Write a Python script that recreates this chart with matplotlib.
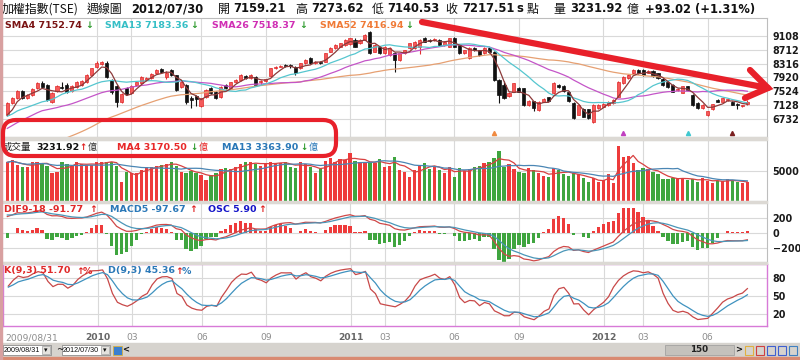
import numpy as np
import pandas as pd
import matplotlib
matplotlib.use("Agg")
import matplotlib.pyplot as plt
from matplotlib.patches import Rectangle, FancyBboxPatch
from matplotlib.lines import Line2D
from matplotlib.transforms import IdentityTransform

W, H = 800, 360

# weekly bars, 2009/08/31 .. 2012/07/30 (150 trading weeks)
opens = [6850, 7185, 7330, 7530, 7330, 7415, 7610, 7750, 7700, 7215,
         7530, 7650, 7700, 7530, 7645, 7700, 7790, 7990, 8220, 8305,
         8335, 7846, 7673, 7214, 7616, 7472, 7702, 7759, 7846, 7903,
         8046, 8160, 7920, 8133, 7989, 7645, 7702, 7330, 7386, 7100,
         7358, 7616, 7501, 7358, 7702, 7616, 7790, 7846, 7960, 7903,
         7932, 7780, 7820, 7960, 8180, 8230, 8280, 8270, 8230, 8180,
         8325, 8470, 8330, 8370, 8370, 8660, 8760, 8800, 8850, 8880,
         8990, 8900, 9000, 9230, 8660, 8800, 8610, 8560, 8610, 8420,
         8610, 8760, 8760, 8800, 9040, 9000, 8990, 9000, 8850, 8800,
         9040, 8850, 8610, 8470, 8760, 8700, 8610, 8760, 8660, 7846,
         7700, 7390, 7510, 7610, 7610, 7130, 7230, 6990, 7220, 7350,
         7460, 7700, 7680, 7500, 7180, 6850, 7000, 7000, 6650, 7040,
         7080, 7130, 7180, 7370, 7750, 7900, 8040, 8130, 8140, 8060,
         8100, 8040, 7880, 7790, 7700, 7560, 7480, 7660, 7420, 7180,
         7030, 6840, 7000, 7270, 7220, 7260, 7220, 7160, 7100, 7159.21]
highs = [7200, 7360, 7560, 7560, 7450, 7620, 7790, 7810, 7730, 7500,
         7700, 7800, 7750, 7700, 7810, 7840, 8010, 8200, 8395, 8400,
         8395, 7870, 7700, 7480, 7650, 7700, 7800, 7950, 7930, 8040,
         8150, 8190, 8100, 8160, 8000, 7800, 7720, 7400, 7420, 7340,
         7580, 7650, 7520, 7670, 7730, 7800, 7870, 8010, 8000, 8010,
         7960, 7840, 7880, 8200, 8260, 8280, 8310, 8300, 8250, 8340,
         8440, 8500, 8400, 8400, 8620, 8780, 8870, 8920, 9020, 9060,
         9040, 9020, 9160, 9260, 8870, 8830, 8820, 8780, 8640, 8630,
         8720, 8920, 8970, 9020, 9080, 9030, 9040, 9020, 8970, 9060,
         9070, 8870, 8720, 8780, 8790, 8720, 8780, 8790, 8680, 7870,
         7830, 7490, 7770, 7640, 7630, 7260, 7250, 7240, 7320, 7370,
         7780, 7740, 7700, 7520, 7200, 7150, 7030, 7020, 7150, 7150,
         7190, 7240, 7290, 7820, 7960, 8010, 8150, 8170, 8170, 8120,
         8130, 8060, 7900, 7810, 7720, 7620, 7680, 7680, 7440, 7200,
         7150, 6970, 7170, 7290, 7340, 7310, 7240, 7180, 7140, 7273.62]
lows = [6820, 7150, 7300, 7300, 7300, 7390, 7590, 7620, 7230, 7190,
        7500, 7580, 7480, 7500, 7620, 7680, 7770, 7970, 8180, 8280,
        7900, 7450, 7080, 7180, 7420, 7450, 7680, 7740, 7820, 7880,
        8020, 8050, 7870, 7960, 7530, 7620, 7150, 7050, 7100, 7060,
        7340, 7450, 7300, 7340, 7600, 7600, 7770, 7830, 7880, 7880,
        7680, 7700, 7790, 7940, 8160, 8210, 8210, 8200, 7990, 8150,
        8300, 8300, 8300, 8300, 8350, 8640, 8740, 8780, 8830, 8860,
        8780, 8880, 8980, 8590, 8640, 8590, 8590, 8540, 8080, 8400,
        8590, 8740, 8740, 8600, 8930, 8940, 8970, 8830, 8830, 8780,
        8780, 8590, 8590, 8450, 8680, 8540, 8590, 8630, 7820, 7185,
        7290, 7370, 7490, 7490, 7100, 7110, 6950, 6970, 7200, 7230,
        7440, 7630, 7500, 7210, 6730, 6830, 6770, 6740, 6610, 7020,
        7060, 7110, 7160, 7350, 7730, 7880, 8020, 8030, 7970, 8040,
        7930, 7880, 7680, 7630, 7490, 7540, 7460, 7550, 7110, 7010,
        7010, 6800, 6980, 7200, 7200, 7240, 7120, 7000, 7080, 7140.53]
closes = [7180, 7330, 7530, 7330, 7415, 7590, 7760, 7655, 7270, 7470,
          7670, 7620, 7500, 7670, 7790, 7820, 7990, 8190, 8330, 8360,
          7930, 7500, 7214, 7444, 7444, 7673, 7788, 7932, 7903, 8018,
          8133, 8075, 8060, 7989, 7559, 7788, 7214, 7272, 7300, 7330,
          7559, 7472, 7329, 7645, 7616, 7788, 7846, 7989, 7903, 7989,
          7702, 7817, 7860, 8180, 8230, 8255, 8235, 8240, 8040, 8325,
          8420, 8325, 8370, 8330, 8610, 8760, 8850, 8900, 9000, 9040,
          8800, 9000, 9140, 8610, 8850, 8610, 8800, 8760, 8420, 8610,
          8700, 8900, 8950, 9000, 8950, 8960, 9010, 8850, 8950, 9040,
          8800, 8610, 8700, 8760, 8700, 8560, 8760, 8650, 7846, 7415,
          7320, 7460, 7750, 7510, 7130, 7230, 7050, 7220, 7300, 7250,
          7750, 7650, 7520, 7230, 6750, 7128, 6790, 6760, 7128, 7128,
          7170, 7220, 7270, 7800, 7940, 7990, 8130, 8050, 7990, 8100,
          7950, 7900, 7700, 7650, 7510, 7600, 7660, 7570, 7130, 7030,
          7130, 6950, 7150, 7220, 7320, 7290, 7140, 7130, 7124.49, 7217.51]
# weekly turnover, 億
volumes = [6450, 6830, 6000, 5620, 5720, 6450, 6560, 6280, 5830, 4610,
           4890, 6450, 6110, 5830, 6560, 6110, 6000, 6000, 6450, 6560,
           6560, 6560, 5890, 3110, 4890, 4610, 4720, 5170, 5720, 5620,
           5830, 6000, 6170, 6560, 5830, 4890, 4720, 5000, 4720, 4330,
           3500, 4330, 4610, 5280, 5450, 5330, 5720, 6170, 6450, 6450,
           6170, 5890, 6390, 6450, 6280, 6280, 6560, 5620, 5450, 6450,
           6110, 5620, 4610, 5280, 6670, 7110, 6560, 6950, 6830, 7950,
           6670, 6450, 6560, 6450, 6390, 7000, 5620, 5890, 7390, 5170,
           4890, 3950, 5170, 6000, 6280, 5280, 5830, 5170, 4720, 5720,
           3950, 5450, 5050, 5280, 5720, 5830, 6280, 6450, 7110, 8390,
           5620, 6110, 5280, 4890, 4610, 5450, 5170, 4610, 4170, 3950,
           5450, 5170, 4500, 4170, 4610, 4500, 3780, 3220, 3780, 3110,
           3500, 4500, 3050, 9170, 7390, 7550, 6280, 5170, 5450, 5280,
           4890, 4500, 3610, 3610, 3890, 3780, 3780, 3500, 3610, 3220,
           3900, 3400, 2940, 3350, 3390, 3700, 3300, 3100, 3050, 3232]
# rough weekly closes for the year before the window (warm-up of the averages)
prior_closes = [6800, 6300, 5900, 5650, 5400, 5000, 4800, 4650, 4800, 4500,
                4300, 4400, 4500, 4650, 4700, 4600, 4550, 4500, 4300, 4250,
                4400, 4600, 4550, 4500, 4450, 4700, 4950, 5200, 5350, 5500,
                5650, 5750, 5900, 6100, 6500, 6700, 6850, 6600, 6700, 6600,
                6500, 6400, 6600, 6800, 6900, 7050, 7000, 6900, 6950, 6750,
                6600, 6850]

tick_idx = [18, 25, 39, 52, 69, 76, 90, 103, 120, 128, 141]
tick_lbl = ["2010", "03", "06", "09", "2011", "03", "06", "09", "2012", "03", "06"]
price_ticks = [9108, 8712, 8316, 7920, 7524, 7128, 6732]
vol_ticks = [5000]
macd_ticks = [200, 0, -200]
kd_ticks = [80, 50, 20]

RED = "#ee3b3b"
GREEN = "#3fa53f"
GRID = "#d9d9d9"

# ---- indicators ----
n0 = len(prior_closes)
c_all = pd.Series(prior_closes + closes, dtype=float)
h_all = pd.Series(prior_closes + highs, dtype=float)
l_all = pd.Series(prior_closes + lows, dtype=float)

def sma(n):
    return c_all.rolling(n, min_periods=1).mean().values[n0:]

ema9 = c_all.ewm(span=9, adjust=False).mean()
ema18 = c_all.ewm(span=18, adjust=False).mean()
dif = ema9 - ema18
macd = dif.ewm(span=5, adjust=False).mean()
osc = (dif - macd).values[n0:]
dif = dif.values[n0:]
macd = macd.values[n0:]

hh = h_all.rolling(9, min_periods=1).max()
ll = l_all.rolling(9, min_periods=1).min()
rsv = ((c_all - ll) / (hh - ll).replace(0, np.nan) * 100).fillna(50).values
k_line, d_line = [], []
k, d = 50.0, 50.0
for r in rsv:
    k = k * 2 / 3 + r / 3
    d = d * 2 / 3 + k / 3
    k_line.append(k)
    d_line.append(d)
k_line = np.array(k_line[n0:])
d_line = np.array(d_line[n0:])

vol = pd.Series(volumes, dtype=float)
vma4 = vol.rolling(4, min_periods=1).mean()
vma13 = vol.rolling(13, min_periods=1).mean()

x = np.arange(len(closes))
o = np.array(opens)
c = np.array(closes)
up = c >= o

# ---- figure ----
fig = plt.figure(figsize=(8, 3.6), dpi=100)
fig.patch.set_facecolor("white")


def rect(x0, y0, x1, y1):
    return [x0 / W, 1 - y1 / H, (x1 - x0) / W, (y1 - y0) / H]


def put(px, py, s, color="#111111", size=6.8, weight="bold", fam=None, ha="left"):
    fig.text(px / W, 1 - py / H, s, color=color, fontsize=size, fontweight=weight,
             family=fam or ["DejaVu Sans", "Noto Sans CJK TC"], ha=ha, va="center")


ax_p = fig.add_axes(rect(2, 18, 767, 137))
ax_v = fig.add_axes(rect(2, 140, 767, 201))
ax_m = fig.add_axes(rect(2, 203, 767, 262))
ax_k = fig.add_axes(rect(3, 264, 767, 326))

for ax, ticks in ((ax_p, price_ticks), (ax_v, vol_ticks), (ax_m, macd_ticks), (ax_k, kd_ticks)):
    ax.set_xlim(-1.07, 152.95)
    ax.set_xticks(tick_idx)
    ax.set_yticks(ticks)
    ax.yaxis.tick_right()
    ax.tick_params(length=0, labelsize=6.9, pad=4, labelcolor="#1a1a1a")
    for t in ax.get_yticklabels():
        t.set_fontweight("bold")
    ax.grid(True, color=GRID, lw=0.8)
    ax.set_axisbelow(True)
    for s in ax.spines.values():
        s.set_color("#bdbdbd")
        s.set_linewidth(0.8)
    if ax is not ax_k:
        ax.set_xticklabels([])

# price panel
ax_p.set_ylim(6209.6, 9624.9)
wick_col = np.where(up, "#e03030", "#111111")
ax_p.vlines(x, lows, highs, colors=wick_col, lw=0.8, zorder=2)
body = np.maximum(np.abs(c - o), 18)
ax_p.bar(x, body, bottom=np.minimum(o, c), width=0.62,
         color=np.where(up, "#f45a5a", "#111111"),
         edgecolor=np.where(up, "#e02828", "#111111"), linewidth=0.5, zorder=3)
ax_p.plot(x, sma(52), color="#e6a072", lw=0.9, zorder=4)
ax_p.plot(x, sma(26), color="#c455c8", lw=0.9, zorder=4)
ax_p.plot(x, sma(13), color="#55c6cf", lw=0.9, zorder=4)
ax_p.plot(x, sma(4), color="#8c3a3a", lw=0.9, zorder=4)
for n, col in ((52, "#f08a40"), (26, "#c040c0"), (13, "#40c8d0"), (4, "#7a2020")):
    ax_p.plot(len(closes) - n, 6330, marker="^", ms=3, color=col, zorder=5)

# volume panel
ax_v.set_ylim(0, 10170)
ax_v.bar(x, volumes, width=0.66, color=np.where(up, RED, GREEN), lw=0, zorder=2)
ax_v.plot(x, vma4, color="#d84040", lw=0.9, zorder=3)
ax_v.plot(x, vma13, color="#4a86b4", lw=0.9, zorder=3)

# MACD panel (OSC bars drawn on their own, larger scale)
ax_m.set_ylim(-386.7, 400)
ax_m.bar(x, osc * 3.4, width=0.66, color=np.where(osc >= 0, RED, GREEN), lw=0, zorder=2)
ax_m.plot(x, dif, color="#d04848", lw=0.9, zorder=3)
ax_m.plot(x, macd, color="#4a96b8", lw=0.9, zorder=3)

# KD panel
ax_k.set_ylim(0, 103.3)
ax_k.plot(x, k_line, color="#c84848", lw=0.9)
ax_k.plot(x, d_line, color="#3f92bf", lw=0.9)
for s in ax_k.spines.values():
    s.set_color("#d77ad7")
    s.set_linewidth(1.0)
ax_k.set_xticklabels(tick_lbl)
ax_k.tick_params(axis="x", labelsize=6.6, labelcolor="#8c8c8c", pad=5)
for t in ax_k.get_xticklabels():
    if len(t.get_text()) == 4:
        t.set_fontweight("bold")
        t.set_color("#666666")

# panel separators
for y0, y1 in ((137, 140), (201, 203), (262, 264)):
    fig.patches.append(Rectangle((2 / W, 1 - y1 / H), 765 / W, (y1 - y0) / H,
                                 transform=fig.transFigure, color="#dcd9d4", zorder=0))

# header
CJK = ["Noto Sans CJK TC", "DejaVu Sans"]
hy = 9
put(2, hy, "加權指數(TSE)", size=8.6, weight="normal", fam=CJK)
put(87, hy, "週線圖", size=8.6, weight="normal", fam=CJK)
put(131, hy, "2012/07/30", size=8.3)
put(218, hy, "開", size=8.6, weight="normal", fam=CJK)
put(233, hy, "7159.21", size=8.3)
put(295, hy, "高", size=8.6, weight="normal", fam=CJK)
put(311, hy, "7273.62", size=8.3)
put(372, hy, "低", size=8.6, weight="normal", fam=CJK)
put(387, hy, "7140.53", size=8.3)
put(445, hy, "收", size=8.6, weight="normal", fam=CJK)
put(462, hy, "7217.51", size=8.3)
put(516, hy, "s", size=8.3)
put(527, hy, "點", size=8.6, weight="normal", fam=CJK)
put(553, hy, "量", size=8.6, weight="normal", fam=CJK)
put(570, hy, "3231.92", size=8.3)
put(627, hy, "億", size=8.6, weight="normal", fam=CJK)
put(645, hy, "+93.02 (+1.31%)", size=8.3)

# legends
dn, upc = "#2c9a2c", "#e02020"
put(5, 25, "SMA4 7152.74", "#7a1414")
put(85, 25, "↓", dn)
put(105, 25, "SMA13 7183.36", "#35bfc6")
put(190, 25, "↓", dn)
put(212, 25, "SMA26 7518.37", "#d02eb4")
put(299, 25, "↓", dn)
put(320, 25, "SMA52 7416.94", "#f07a36")
put(405, 25, "↓", dn)

put(3, 147, "成交量", "#222222", size=6.8, weight="normal", fam=CJK)
put(36, 147, "3231.92", "#111111")
put(79, 147, "↑", upc, size=6.2)
put(88, 147, "億", "#333333", size=6.5, weight="normal", fam=CJK)
put(117, 147, "MA4 3170.50", "#e82828")
put(190, 147, "↓", dn, size=6.2)
put(199, 147, "億", "#e82828", size=6.5, weight="normal", fam=CJK)
put(222, 147, "MA13 3363.90", "#2a78b8")
put(300, 147, "↓", dn, size=6.2)
put(309, 147, "億", "#2a78b8", size=6.5, weight="normal", fam=CJK)

put(4, 210, "DIF9-18 -91.77", "#e02828")
put(89, 210, "↑", upc)
put(110, 210, "MACD5 -97.67", "#2a78b8")
put(189, 210, "↑", upc)
put(208, 210, "OSC 5.90", "#1414c8")
put(258, 210, "↑", upc)

put(4, 271, "K(9,3) 51.70", "#e02828")
put(76, 271, "↑", upc)
put(83, 271, "%", "#e02828")
put(108, 271, "D(9,3) 45.36", "#2a78b8")
put(175, 271, "↑", upc)
put(182, 271, "%", "#2a78b8")

put(5, 338, "2009/08/31", "#8c8c8c", size=6.6, weight="normal")

# bottom toolbar
fig.patches.append(Rectangle((0, 3 / H), 1, 14 / H, transform=fig.transFigure,
                             color="#d6d3ce", zorder=0))
fig.patches.append(Rectangle((0, 0), 1, 3 / H, transform=fig.transFigure,
                             color="#d98a72", zorder=0))
fig.patches.append(Rectangle((0, 0), 1.5 / W, 1, transform=fig.transFigure,
                             color="#d8a0a0", zorder=5))
for bx0, bx1, txt in ((3, 51, "2009/08/31"), (62, 110, "2012/07/30")):
    fig.patches.append(Rectangle((bx0 / W, 1 - 355 / H), (bx1 - bx0) / W, 10 / H,
                                 transform=fig.transFigure, fc="white", ec="#7a7a7a", lw=0.5))
    fig.patches.append(Rectangle(((bx1 - 9) / W, 1 - 354 / H), 8 / W, 8 / H,
                                 transform=fig.transFigure, fc="#e4e2de", ec="#8a8a8a", lw=0.4))
    put(bx0 + 1, 350, txt, "#111111", size=5.2, weight="normal", fam=["Liberation Sans"])
    put(bx1 - 5, 350, "▾", "#111111", size=5, weight="normal", ha="center")
put(56, 350, "~", "#111111", size=6.5, weight="normal")
fig.patches.append(Rectangle((113 / W, 1 - 355 / H), 9 / W, 9 / H, transform=fig.transFigure,
                             fc="#3b7fd0", ec="#d8b040", lw=0.6))
put(126, 350, "<", "#111111", size=6, weight="bold", ha="center")
fig.patches.append(Rectangle((665 / W, 1 - 355 / H), 69 / W, 10 / H, transform=fig.transFigure,
                             fc="#c4c1bc", ec="#9a9a9a", lw=0.5))
put(699, 350, "150", "#222222", size=6.3, ha="center")
put(739, 350, ">", "#111111", size=6, ha="center")
for ix, col in ((745, "#e0b040"), (756, "#d04040"), (767, "#4060d0"), (778, "#4060d0"), (789, "#4080c0")):
    fig.patches.append(Rectangle((ix / W, 1 - 355 / H), 8 / W, 9 / H, transform=fig.transFigure,
                                 fc="none", ec=col, lw=0.8))

# red hand-drawn marks
px = IdentityTransform()
box = FancyBboxPatch((3, H - 156), 333, 36, boxstyle="round,pad=0,rounding_size=13",
                     transform=px, fill=False, ec="#e8202a", lw=3.0, zorder=20)
fig.add_artist(box)
fig.add_artist(Line2D([422, 768], [H - 22, H - 88], transform=px, color="#e8202a",
                      lw=4.5, solid_capstyle="round", zorder=20))
fig.add_artist(Line2D([750, 768, 745], [H - 70, H - 88, H - 98], transform=px, color="#e8202a",
                      lw=4.5, solid_capstyle="round", solid_joinstyle="miter", zorder=20))

fig.savefig("out.png", dpi=100)
